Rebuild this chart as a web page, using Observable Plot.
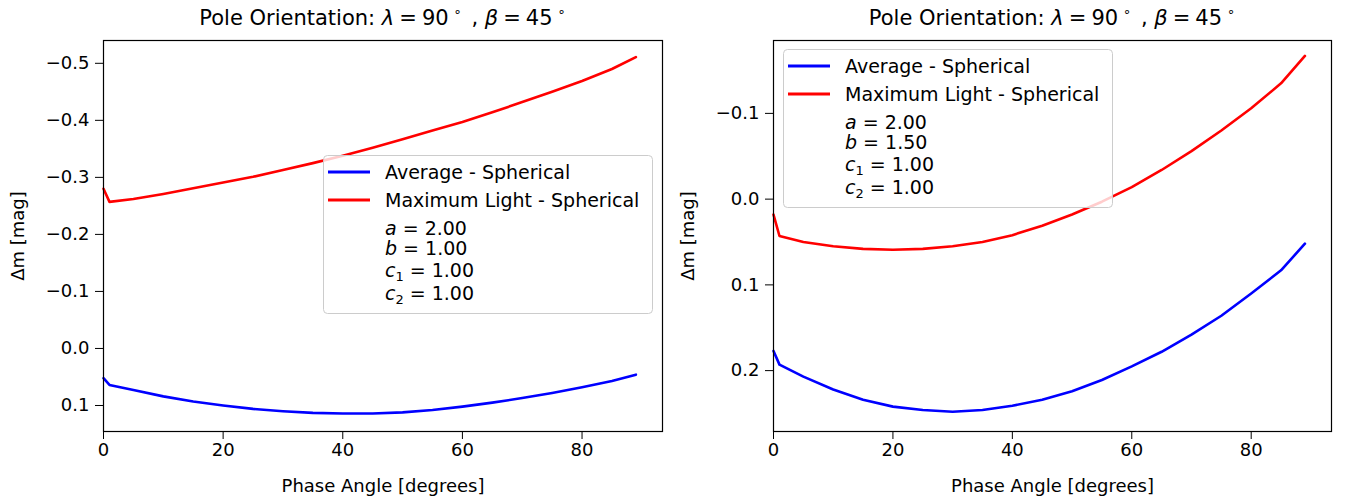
<!DOCTYPE html>
<html>
<head>
<meta charset="utf-8">
<script src="https://cdn.jsdelivr.net/npm/d3@7"></script>
<script src="https://cdn.jsdelivr.net/npm/@observablehq/plot@0.6"></script>
<style>
  html, body { margin: 0; padding: 0; background: #fff; }
  #wrap { position: relative; width: 1346px; height: 499px; overflow: hidden; font-family: "DejaVu Sans", sans-serif; }
  #wrap > svg, #wrap > figure { position: absolute; top: 0; margin: 0; }
  #overlay { left: 0; top: 0; pointer-events: none; }
</style>
</head>
<body>
<div id="wrap"></div>
<script>
// ---- data ----
const phase = [0, 1, 5, 10, 15, 20, 25, 30, 35, 40, 45, 50, 55, 60, 65, 70, 75, 80, 85, 89];

// Left panel (b = 1.00)
const leftAverage  = [0.052, 0.064, 0.073, 0.084, 0.093, 0.100, 0.106, 0.110, 0.113, 0.114, 0.114, 0.112, 0.108, 0.102, 0.095, 0.087, 0.078, 0.068, 0.057, 0.046];
const leftMaxLight = [-0.280, -0.257, -0.262, -0.271, -0.281, -0.291, -0.301, -0.313, -0.325, -0.338, -0.352, -0.367, -0.382, -0.397, -0.414, -0.432, -0.450, -0.469, -0.490, -0.511];

// Right panel (b = 1.50)
const rightAverage  = [0.177, 0.193, 0.207, 0.222, 0.234, 0.242, 0.246, 0.248, 0.246, 0.241, 0.234, 0.224, 0.211, 0.195, 0.178, 0.158, 0.136, 0.110, 0.083, 0.052];
const rightMaxLight = [0.018, 0.043, 0.050, 0.055, 0.058, 0.059, 0.058, 0.055, 0.050, 0.042, 0.031, 0.018, 0.003, -0.014, -0.034, -0.056, -0.080, -0.106, -0.135, -0.167];

const xTicks = [0, 20, 40, 60, 80];
const leftYTicks = [-0.5, -0.4, -0.3, -0.2, -0.1, 0.0, 0.1];
const rightYTicks = [-0.1, 0.0, 0.1, 0.2];

const seriesNames = ["Average - Spherical", "Maximum Light - Spherical"];
const seriesColors = ["#0000ff", "#ff0000"];
const leftParams = [["a", null, "2.00"], ["b", null, "1.00"], ["c", "1", "1.00"], ["c", "2", "1.00"]];
const rightParams = [["a", null, "2.00"], ["b", null, "1.50"], ["c", "1", "1.00"], ["c", "2", "1.00"]];

function toRows(avg, maxl) {
  const rows = [];
  phase.forEach((p, i) => rows.push({phase: p, dm: avg[i], series: seriesNames[0]}));
  phase.forEach((p, i) => rows.push({phase: p, dm: maxl[i], series: seriesNames[1]}));
  return rows;
}

function panel({avg, maxl, yDomain, yTicks, width, marginRight}) {
  return Plot.plot({
    width, height: 499,
    marginLeft: 103, marginRight, marginTop: 40, marginBottom: 68,
    style: {fontFamily: "DejaVu Sans, sans-serif", fontSize: "18px", color: "#000", background: "transparent"},
    x: {domain: [0, 93.45], ticks: xTicks, tickSize: 8, tickPadding: 4, tickFormat: d3.format("d"),
        label: "Phase Angle [degrees]", labelAnchor: "center", labelArrow: "none", labelOffset: 60},
    y: {domain: yDomain, reverse: true, ticks: yTicks, tickSize: 8, tickPadding: 6, tickFormat: d3.format(".1f"),
        label: "Δm [mag]", labelAnchor: "center", labelArrow: "none", labelOffset: 92},
    color: {domain: seriesNames, range: seriesColors},
    marks: [
      Plot.lineY(toRows(avg, maxl), {x: "phase", y: "dm", z: "series", stroke: "series", strokeWidth: 2.6, curve: "linear"}),
      Plot.frame({stroke: "#000", strokeWidth: 1.2})
    ]
  });
}

const wrap = document.getElementById("wrap");
const left = panel({avg: leftAverage, maxl: leftMaxLight, yDomain: [-0.540, 0.1456], yTicks: leftYTicks, width: 680, marginRight: 18});
left.style.left = "0px";
wrap.appendChild(left);
const right = panel({avg: rightAverage, maxl: rightMaxLight, yDomain: [-0.185, 0.271], yTicks: rightYTicks, width: 676, marginRight: 15});
right.style.left = "670px";
wrap.appendChild(right);

// ---- overlay: titles and legends ----
const svg = d3.select(wrap).append("svg").attr("id", "overlay")
  .attr("width", 1346).attr("height", 499)
  .style("font-family", "DejaVu Sans, sans-serif");

function title(cx) {
  const t = svg.append("text").attr("x", cx).attr("y", 25).attr("text-anchor", "middle")
    .attr("font-size", 21).attr("fill", "#000");
  t.append("tspan").text("Pole Orientation: ");
  t.append("tspan").attr("font-style", "italic").text("λ");
  t.append("tspan").attr("dx", 5).text("=");
  t.append("tspan").attr("dx", 5).text("90");
  t.append("tspan").attr("dx", 5).attr("dy", -9).attr("font-size", 13).text("∘");
  t.append("tspan").attr("dx", 3).attr("dy", 9).text(" , ");
  t.append("tspan").attr("font-style", "italic").text("β");
  t.append("tspan").attr("dx", 5).text("=");
  t.append("tspan").attr("dx", 5).text("45");
  t.append("tspan").attr("dx", 5).attr("dy", -9).attr("font-size", 13).text("∘");
}
title(382.5);
title(1052);

function legend(x0, y0, params) {
  const g = svg.append("g").attr("transform", `translate(${x0},${y0})`);
  g.append("rect").attr("x", 0.5).attr("y", 0.5).attr("width", 329).attr("height", 158)
    .attr("rx", 4).attr("fill", "#fff").attr("fill-opacity", 0.8).attr("stroke", "#cccccc").attr("stroke-width", 1);
  const rowY = [17, 45];
  seriesNames.forEach((name, i) => {
    g.append("line").attr("x1", 5).attr("x2", 47).attr("y1", rowY[i]).attr("y2", rowY[i])
      .attr("stroke", seriesColors[i]).attr("stroke-width", 2.8);
    g.append("text").attr("x", 62).attr("y", rowY[i] + 6.5).attr("font-size", 19).attr("fill", "#000").text(name);
  });
  const pY = [80, 100, 122, 145];
  params.forEach(([v, sub, val], i) => {
    const t = g.append("text").attr("x", 62).attr("y", pY[i]).attr("font-size", 19).attr("fill", "#000");
    t.append("tspan").attr("font-style", "italic").text(v);
    if (sub) {
      t.append("tspan").attr("dy", 4).attr("font-size", 13).text(sub);
      t.append("tspan").attr("dy", -4).text(" = " + val);
    } else {
      t.append("tspan").text(" = " + val);
    }
  });
}
legend(323, 155, leftParams);
legend(783, 49, rightParams);
</script>
</body>
</html>
